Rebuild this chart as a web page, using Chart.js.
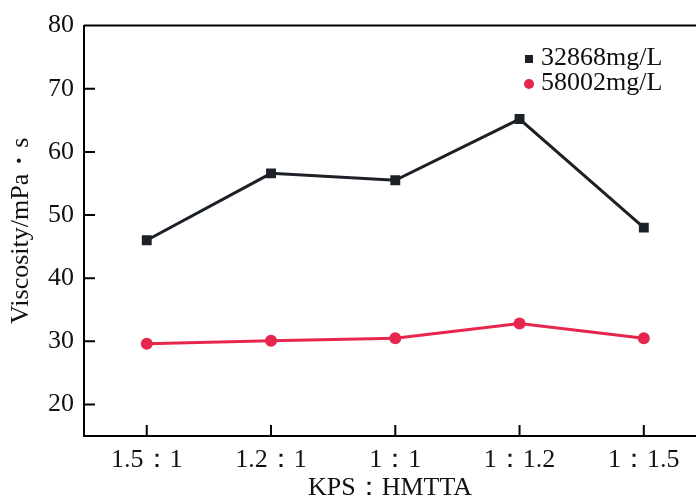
<!DOCTYPE html>
<html>
<head>
<meta charset="utf-8">
<script src="https://cdn.jsdelivr.net/npm/chart.js@4"></script>
<style>
  body { margin: 0; background: #fff; }
</style>
</head>
<body>
<canvas id="myChart" width="696" height="497"></canvas>
<script>
// data
const ratios = ["1.5：1", "1.2：1", "1：1", "1：1.2", "1：1.5"];
const seriesNames = ["32868mg/L", "58002mg/L"];
const visc32868 = [46.0, 56.6, 55.5, 65.2, 48.0];
const visc58002 = [29.6, 30.1, 30.5, 32.8, 30.5];
const yTicks = [20, 30, 40, 50, 60, 70, 80];

const FONT = "Liberation Serif";
const BLACK = "#1b2126";
const RED = "#e6264c";

function toPoints(arr) {
  return arr.map((v, i) => ({ x: i, y: v }));
}

// inward ticks, top frame line and legend
const extras = {
  id: "extras",
  afterDraw(chart) {
    const ctx = chart.ctx;
    const a = chart.chartArea;
    const xs = chart.scales.x;
    const ys = chart.scales.y;
    ctx.save();
    ctx.strokeStyle = "#000";
    ctx.lineWidth = 2;
    ctx.beginPath();
    ctx.moveTo(a.left, a.top);
    ctx.lineTo(a.right, a.top);
    yTicks.forEach((v) => {
      const py = ys.getPixelForValue(v);
      ctx.moveTo(a.left, py);
      ctx.lineTo(a.left + 11, py);
    });
    ratios.forEach((r, i) => {
      const px = xs.getPixelForValue(i);
      ctx.moveTo(px, a.bottom);
      ctx.lineTo(px, a.bottom - 11);
    });
    ctx.stroke();

    // legend
    ctx.font = "26px '" + FONT + "'";
    ctx.textBaseline = "alphabetic";
    ctx.textAlign = "left";
    chart.data.datasets.forEach((ds, i) => {
      const cy = 59 + i * 25;
      ctx.fillStyle = ds.borderColor;
      if (ds.pointStyle === "rect") {
        ctx.fillRect(525, cy - 4, 8, 8);
      } else {
        ctx.beginPath();
        ctx.arc(529, cy, 5, 0, Math.PI * 2);
        ctx.fill();
      }
      ctx.fillStyle = "#111";
      ctx.fillText(seriesNames[i], 541, cy + 6);
    });
    ctx.restore();
  },
};

var config = {
  type: "line",
  data: {
    datasets: [
      {
        label: seriesNames[0],
        data: toPoints(visc32868),
        borderColor: BLACK,
        backgroundColor: BLACK,
        borderWidth: 3,
        pointStyle: "rect",
        pointRadius: 7,
        pointBorderWidth: 0,
      },
      {
        label: seriesNames[1],
        data: toPoints(visc58002),
        borderColor: RED,
        backgroundColor: RED,
        borderWidth: 3,
        pointStyle: "circle",
        pointRadius: 6,
        pointBorderWidth: 0,
      },
    ],
  },
  options: {
    responsive: false,
    animation: false,
    layout: {
      autoPadding: false,
      padding: { top: 22, right: 0, left: 0, bottom: 0 },
    },
    plugins: {
      legend: { display: false },
      tooltip: { enabled: false },
    },
    scales: {
      x: {
        type: "linear",
        min: -0.505,
        max: 4.42,
        afterBuildTicks: (s) => {
          s.ticks = ratios.map((r, i) => ({ value: i }));
        },
        afterFit: (s) => {
          s.height = 61;
          s.paddingRight = 0;
          s.paddingLeft = 0;
        },
        grid: { display: false, drawTicks: false },
        border: { display: true, color: "#000", width: 2 },
        ticks: {
          padding: 9,
          color: "#111",
          font: { family: FONT, size: 26 },
          maxRotation: 0,
          callback: (v) => ratios[v],
        },
        title: {
          display: true,
          text: "KPS：HMTTA",
          color: "#111",
          font: { family: FONT, size: 26 },
          padding: { top: 0, bottom: -7 },
        },
      },
      y: {
        min: 15,
        max: 80,
        afterBuildTicks: (s) => {
          s.ticks = yTicks.map((v) => ({ value: v }));
        },
        afterFit: (s) => {
          s.width = 84;
        },
        grid: { display: false, drawTicks: false },
        border: { display: true, color: "#000", width: 2 },
        ticks: {
          padding: 10,
          color: "#111",
          font: { family: FONT, size: 26 },
        },
        title: {
          display: true,
          text: "Viscosity/mPa・s",
          color: "#111",
          font: { family: FONT, size: 26 },
          padding: { top: 6, bottom: 0 },
        },
      },
    },
  },
  plugins: [extras],
};

document.fonts.load("26px '" + FONT + "'").then(() => {
  const myChart = new Chart(document.getElementById("myChart"), config);
});
</script>
</body>
</html>
